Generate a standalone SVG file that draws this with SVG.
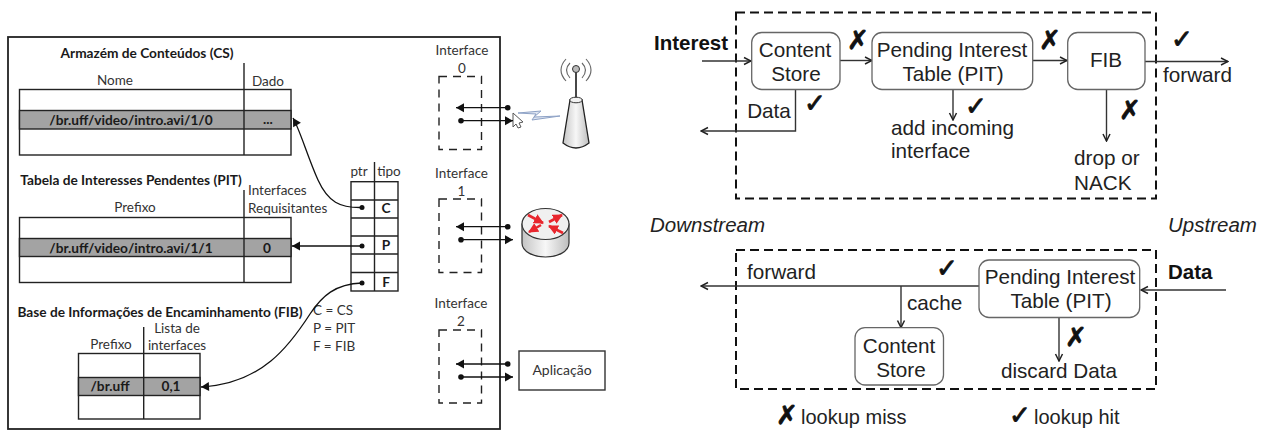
<svg xmlns="http://www.w3.org/2000/svg" width="1267" height="430" viewBox="0 0 1267 430">
<style>
.l{font-family:Lato,"Liberation Sans",sans-serif;font-size:13.500px;fill:#333;text-anchor:middle}
.lb{font-family:Lato,"Liberation Sans",sans-serif;font-size:13.700px;fill:#1a1a1a;font-weight:700;text-anchor:middle}
.s{text-anchor:start}
.r{font-family:"Liberation Sans",Arial,sans-serif;font-size:20.700px;fill:#222;text-anchor:middle}
.rs{text-anchor:start}
.rb{font-family:"Liberation Sans",Arial,sans-serif;font-size:20.500px;fill:#111;font-weight:700}
.ri{font-family:"Liberation Sans",Arial,sans-serif;font-size:20.500px;fill:#222;font-style:italic}
.sym{font-family:"DejaVu Sans",sans-serif;font-size:26px;fill:#111;stroke:#111;stroke-width:.9;font-weight:700;text-anchor:middle}
.t{fill:#fff;stroke:#222;stroke-width:1.4}
.g{fill:#a3a3a3;stroke:#222;stroke-width:1.4}
.ln{fill:none;stroke:#222;stroke-width:1.4}
.ds{fill:none;stroke:#222;stroke-width:1.4;stroke-dasharray:8 6}
.ds2{fill:none;stroke:#111;stroke-width:2;stroke-dasharray:9 5}
.box{fill:#fff;stroke:#666;stroke-width:1.3}
.a{fill:none;stroke:#333;stroke-width:1.4;marker-end:url(#tip)}
.al{fill:none;stroke:#111;stroke-width:1.3;marker-end:url(#big)}
.dot{fill:#111}
.ra{fill:none;stroke:#e8262d;stroke-width:2.600;marker-end:url(#red)}
</style>
<defs>
<marker id="tip" viewBox="0 0 10 10" refX="9" refY="5" markerUnits="userSpaceOnUse" markerWidth="10" markerHeight="10" orient="auto"><path d="M2 1.500L9 5L2 8.500" fill="none" stroke="#222" stroke-width="1.500"/></marker>
<marker id="big" viewBox="0 0 10 10" refX="9" refY="5" markerUnits="userSpaceOnUse" markerWidth="10" markerHeight="10" orient="auto"><path d="M1 .500L9 5L1 9.500Z" fill="#111"/></marker>
<marker id="red" viewBox="0 0 10 10" refX="9" refY="5" markerUnits="userSpaceOnUse" markerWidth="10" markerHeight="10" orient="auto"><path d="M0 0L10 5L0 10Z" fill="#e8262d"/></marker>
<linearGradient id="cyl" x1="0" x2="1" y1="0" y2="0"><stop offset="0" stop-color="#c4c4c4"/><stop offset=".5" stop-color="#f7f7f7"/><stop offset="1" stop-color="#bdbdbd"/></linearGradient>
</defs>

<g id="router-panel">
<rect x="8" y="37" width="492" height="392" fill="#fff" stroke="#222" stroke-width="1.800"/>
</g>

<g id="cs-table">
<text class="lb" x="147" y="58">Armazém de Conteúdos (CS)</text>
<text class="l" x="115" y="85">Nome</text><text class="l" x="268" y="86">Dado</text>
<rect class="t" x="19.500" y="89.500" width="271.500" height="65.500"/>
<rect class="g" x="19.500" y="110.500" width="271.500" height="18.500"/>
<line class="ln" x1="244" y1="63" x2="244" y2="155"/>
<text class="lb" x="131" y="125">/br.uff/video/intro.avi/1/0</text><text class="lb" x="268" y="124">...</text>
</g>

<g id="pit-table">
<text class="lb" x="131" y="185">Tabela de Interesses Pendentes (PIT)</text>
<text class="l s" x="248" y="195">Interfaces</text><text class="l s" x="248" y="213">Requisitantes</text>
<text class="l" x="135" y="212">Prefixo</text>
<rect class="t" x="19.500" y="217.500" width="271.500" height="65"/>
<rect class="g" x="19.500" y="238.500" width="271.500" height="18"/>
<line class="ln" x1="244" y1="190" x2="244" y2="282.500"/>
<text class="lb" x="131" y="253">/br.uff/video/intro.avi/1/1</text><text class="lb" x="267" y="253">0</text>
</g>

<g id="fib-table">
<text class="lb" x="160" y="317">Base de Informações de Encaminhamento (FIB)</text>
<text class="l" x="177" y="333">Lista de</text><text class="l" x="177" y="350">interfaces</text>
<text class="l" x="111" y="349">Prefixo</text>
<rect class="t" x="78.500" y="353.500" width="121.500" height="65.500"/>
<rect class="g" x="78.500" y="377.500" width="121.500" height="18"/>
<line class="ln" x1="143.700" y1="327" x2="143.700" y2="419"/>
<text class="lb" x="110" y="391">/br.uff</text><text class="lb" x="171" y="391">0,1</text>
</g>

<g id="ptr-table">
<text class="l" x="359" y="176">ptr</text><text class="l" x="389" y="176">tipo</text>
<rect class="t" x="351" y="181.700" width="47" height="109.300"/>
<path class="ln" d="M351 200H398M351 218H398M351 236H398M351 254H398M351 272.500H398M374.500 162V291"/>
<text class="lb" x="386" y="213">C</text><text class="lb" x="386" y="250">P</text><text class="lb" x="386" y="287">F</text>
<text class="l s" x="313" y="315">C = CS</text>
<text class="l s" x="313" y="333">P = PIT</text>
<text class="l s" x="313" y="351">F = FIB</text>
</g>

<g id="interfaces">
<text class="l" x="462" y="55">Interface</text><text class="l" x="462" y="73">0</text>
<rect class="ds" x="439" y="76.500" width="42.500" height="73"/>
<text class="l" x="461.500" y="178">Interface</text><text class="l" x="461.500" y="196">1</text>
<rect class="ds" x="439" y="199" width="42.500" height="73.500"/>
<text class="l" x="461" y="308">Interface</text><text class="l" x="461" y="326">2</text>
<rect class="ds" x="439" y="330" width="42.500" height="73"/>
</g>

<g id="antenna">
<line x1="576" y1="72" x2="576" y2="98" stroke="#333" stroke-width="1.800"/>
<circle cx="576" cy="69" r="3.500" fill="#bbb" stroke="#333"/>
<path d="M570 100L563 143Q576 153 589 143L582 100Z" fill="url(#cyl)" stroke="#222" stroke-width="1.300"/>
<ellipse cx="576" cy="100" rx="6.300" ry="2.800" fill="#f2f2f2" stroke="#333"/>
<path d="M570 63Q563 70 570 78M566 59Q556 70 566 81M582 63Q589 70 582 78M586 59Q596 70 586 81" fill="none" stroke="#666" stroke-width="1.100"/>
<path d="M518 113L541 111L534 117L560 116L532 120L536 114Z" fill="#dfe6f2" stroke="#8ea2c6"/>
<path d="M513 113L523 122L519 123L521 127L518 128L516 124L513 127Z" fill="#fff" stroke="#555"/>
</g>

<g id="router">
<path d="M522 224V243C522 252 534 257 545.500 257S569 252 569 243V224Z" fill="url(#cyl)" stroke="#333" stroke-width="1.200"/>
<ellipse cx="545.500" cy="224" rx="23.500" ry="15.500" fill="#f0f0f0" stroke="#333" stroke-width="1.200"/>
<path class="ra" d="M541 225L529 232"/>
<path class="ra" d="M549 222L562 215"/>
<path class="ra" d="M528 215L543 223"/>
<path class="ra" d="M563 233L549 226"/>
</g>

<g id="aplicacao">
<rect x="519" y="351" width="86" height="39" fill="#fff" stroke="#333" stroke-width="1.400"/>
<text class="l" x="562" y="375" style="font-size:14px">Aplicação</text>
</g>

<g id="left-connectors">
<path class="al" d="M362 207.500C340 208 328 202 318 180C308 158 300 130 293 118"/>
<path class="al" d="M362 246H292"/>
<path class="al" d="M362 283C335 284 322 296 310 314C290 345 262 384 201 387"/>
<circle class="dot" cx="362" cy="207.500" r="2.500"/><circle class="dot" cx="362" cy="246" r="2.500"/><circle class="dot" cx="362" cy="283" r="2.500"/>
<g id="if0-links"><path class="al" d="M507 107.700H456"/><path class="al" d="M461 120.700H513"/><circle class="dot" cx="507.700" cy="107.700" r="2.800"/><circle class="dot" cx="461" cy="120.700" r="2.800"/></g>
<g id="if1-links"><path class="al" d="M507 226.700H456"/><path class="al" d="M461 239.700H513"/><circle class="dot" cx="507.700" cy="226.700" r="2.800"/><circle class="dot" cx="461" cy="239.700" r="2.800"/></g>
<g id="if2-links"><path class="al" d="M507 364H456"/><path class="al" d="M461 377H513"/><circle class="dot" cx="507.700" cy="364" r="2.800"/><circle class="dot" cx="461" cy="377" r="2.800"/></g>
</g>

<g id="interest-frame"><rect class="ds2" x="736" y="12.500" width="420" height="186"/></g>
<g id="data-frame"><rect class="ds2" x="736" y="250" width="420" height="139"/></g>

<g id="right-connectors">
<path class="a" d="M702 61H751"/>
<path class="a" d="M840 60.500H872"/>
<path class="a" d="M1033 60.500H1067"/>
<path class="a" d="M1145 61.500H1228"/>
<path class="a" d="M795.500 89.500V131H701"/>
<path class="a" d="M953 90V120"/>
<path class="a" d="M1106.500 90V141"/>
<path class="a" d="M979 286H701"/>
<path class="a" d="M901 286V327.500"/>
<path class="a" d="M1226 290H1141"/>
<path class="a" d="M1059 317.500V361"/>
</g>

<g id="cs-interest"><rect class="box" x="751.700" y="32.500" width="88.300" height="57" rx="10"/>
<text class="r" x="795" y="56.500">Content</text><text class="r" x="796" y="80.500">Store</text></g>
<g id="pit-interest"><rect class="box" x="872" y="32.500" width="160.700" height="57" rx="10"/>
<text class="r" x="952" y="56.500">Pending Interest</text><text class="r" x="953" y="80.500">Table (PIT)</text></g>
<g id="fib-interest"><rect class="box" x="1067.700" y="32.500" width="77.300" height="57" rx="10"/>
<text class="r" x="1106" y="67">FIB</text></g>
<g id="cs-data"><rect class="box" x="855" y="327.700" width="88.500" height="57.300" rx="10"/>
<text class="r" x="899" y="352.500">Content</text><text class="r" x="901" y="376.500">Store</text></g>
<g id="pit-data"><rect class="box" x="979" y="260" width="160.700" height="57.500" rx="10"/>
<text class="r" x="1060" y="284">Pending Interest</text><text class="r" x="1061" y="307.500">Table (PIT)</text></g>

<g id="labels">
<text class="rb" x="654" y="50">Interest</text>
<text class="rb" x="1168" y="279">Data</text>
<text class="ri" x="650" y="232">Downstream</text>
<text class="ri" x="1168" y="232">Upstream</text>
<text class="r" x="769" y="118">Data</text>
<text class="r rs" x="891" y="134.500">add incoming</text>
<text class="r rs" x="891" y="157.500">interface</text>
<text class="r rs" x="1074" y="165">drop or</text>
<text class="r rs" x="1074" y="190">NACK</text>
<text class="r rs" x="1163" y="82">forward</text>
<text class="r rs" x="747" y="279">forward</text>
<text class="r rs" x="907" y="310">cache</text>
<text class="r" x="1059" y="378">discard Data</text>
<text class="r rs" x="801" y="424" style="font-size:20px">lookup miss</text>
<text class="r rs" x="1034" y="424" style="font-size:20px">lookup hit</text>
<text class="sym" x="858" y="49">✗</text>
<text class="sym" x="1050" y="49">✗</text>
<text class="sym" x="1130" y="119">✗</text>
<text class="sym" x="1076" y="346">✗</text>
<text class="sym" x="787" y="423.500">✗</text>
<text class="sym" x="815" y="112">✓</text>
<text class="sym" x="976" y="115">✓</text>
<text class="sym" x="1182" y="48">✓</text>
<text class="sym" x="947" y="277">✓</text>
<text class="sym" x="1020" y="423.500">✓</text>
</g>
</svg>
